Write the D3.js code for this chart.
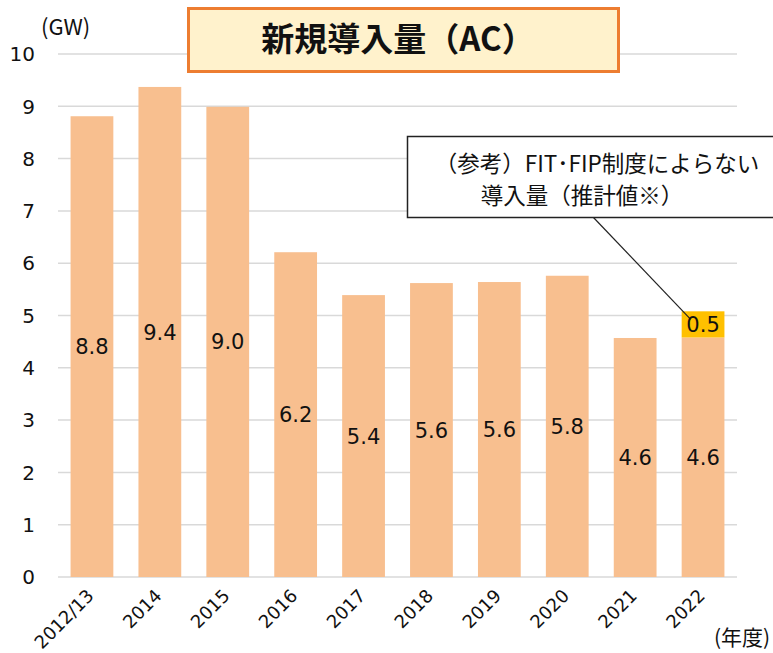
<!DOCTYPE html>
<html>
<head>
<meta charset="utf-8">
<script src="https://cdn.jsdelivr.net/npm/d3@7"></script>
<style>
  body { margin: 0; background: #fff; }
  text { font-family: "Noto Sans CJK JP", "Noto Sans", sans-serif; }
  text.num { font-family: "DejaVu Sans", sans-serif; }
</style>
</head>
<body>
<div id="chart"></div>
<script>
// data
const years = ["2012/13", "2014", "2015", "2016", "2017", "2018", "2019", "2020", "2021", "2022"];
const fitValues = [8.81, 9.37, 8.99, 6.21, 5.39, 5.62, 5.64, 5.76, 4.57, 4.58];
const extraValues = [0, 0, 0, 0, 0, 0, 0, 0, 0, 0.5]; // non FIT/FIP estimate
const yTicks = [0, 1, 2, 3, 4, 5, 6, 7, 8, 9, 10];

const width = 773;
const height = 653;
const plotLeft = 58;
const plotRight = 737;
const plotTop = 54;
const plotBottom = 577;

const svg = d3
  .select("#chart")
  .append("svg")
  .attr("width", width)
  .attr("height", height);

const x = d3
  .scaleBand()
  .domain(years)
  .range([plotLeft, plotRight])
  .paddingInner(0.37)
  .paddingOuter(0.185);

const y = d3.scaleLinear().domain([0, 10]).range([plotBottom, plotTop]);

// grid lines
svg
  .append("g")
  .selectAll("line")
  .data(yTicks)
  .enter()
  .append("line")
  .attr("x1", plotLeft)
  .attr("x2", plotRight)
  .attr("y1", (d) => y(d))
  .attr("y2", (d) => y(d))
  .attr("stroke", "#d9d9d9")
  .attr("stroke-width", 1.5);

// y tick labels
svg
  .append("g")
  .selectAll("text")
  .data(yTicks)
  .enter()
  .append("text")
  .attr("class", "num")
  .attr("x", 35)
  .attr("y", (d) => y(d))
  .attr("dy", "0.36em")
  .attr("text-anchor", "end")
  .style("font-size", "20px")
  .style("fill", "#111")
  .text((d) => d);

svg
  .append("text")
  .attr("x", 41)
  .attr("y", 35)
  .style("font-size", "22px")
  .style("fill", "#111")
  .text("(GW)");

// bars
const rows = years.map((yr, i) => ({ year: yr, fit: fitValues[i], extra: extraValues[i] }));

svg
  .append("g")
  .selectAll("rect")
  .data(rows)
  .enter()
  .append("rect")
  .attr("x", (d) => x(d.year))
  .attr("y", (d) => y(d.fit))
  .attr("width", x.bandwidth())
  .attr("height", (d) => y(0) - y(d.fit))
  .attr("fill", "#f8bf8f");

svg
  .append("g")
  .selectAll("rect")
  .data(rows.filter((d) => d.extra > 0))
  .enter()
  .append("rect")
  .attr("x", (d) => x(d.year))
  .attr("y", (d) => y(d.fit + d.extra))
  .attr("width", x.bandwidth())
  .attr("height", (d) => y(d.fit) - y(d.fit + d.extra))
  .attr("fill", "#ffc000");

// value labels
svg
  .append("g")
  .selectAll("text")
  .data(rows)
  .enter()
  .append("text")
  .attr("class", "num")
  .attr("x", (d) => x(d.year) + x.bandwidth() / 2)
  .attr("y", (d) => y(d.fit / 2))
  .attr("dy", "0.36em")
  .attr("text-anchor", "middle")
  .style("font-size", "21px")
  .style("fill", "#111")
  .text((d) => d3.format(".1f")(d.fit));

// callout leader (drawn under the 0.5 label)
const last = rows[rows.length - 1];
svg
  .append("line")
  .attr("x1", 593)
  .attr("y1", 217)
  .attr("x2", x(last.year) + 9)
  .attr("y2", y(last.fit + last.extra) + 8)
  .attr("stroke", "#222")
  .attr("stroke-width", 1.2);

svg
  .append("g")
  .selectAll("text")
  .data(rows.filter((d) => d.extra > 0))
  .enter()
  .append("text")
  .attr("class", "num")
  .attr("x", (d) => x(d.year) + x.bandwidth() / 2)
  .attr("y", (d) => y(d.fit + d.extra / 2))
  .attr("dy", "0.36em")
  .attr("text-anchor", "middle")
  .style("font-size", "21px")
  .style("fill", "#111")
  .text((d) => d3.format(".1f")(d.extra));

// x labels, rotated
svg
  .append("g")
  .selectAll("text")
  .data(years)
  .enter()
  .append("text")
  .attr("class", "num")
  .attr("transform", (d) => `translate(${x(d) + x.bandwidth() / 2 + 3},${plotBottom + 20}) rotate(-45)`)
  .attr("text-anchor", "end")
  .style("font-size", "18px")
  .style("fill", "#111")
  .text((d) => d);

svg
  .append("text")
  .attr("x", 714)
  .attr("y", 645)
  .style("font-size", "21px")
  .style("fill", "#111")
  .text("(年度)");

// title box
svg
  .append("rect")
  .attr("x", 188.5)
  .attr("y", 8.5)
  .attr("width", 430)
  .attr("height", 63)
  .attr("fill", "#fff2cc")
  .attr("stroke", "#ed7d31")
  .attr("stroke-width", 3);

svg
  .append("text")
  .attr("x", 398)
  .attr("y", 39)
  .attr("dy", "0.36em")
  .attr("text-anchor", "middle")
  .style("font-size", "33px")
  .style("font-weight", "bold")
  .style("fill", "#111")
  .text("新規導入量（AC）");

// callout box
svg
  .append("rect")
  .attr("x", 407.5)
  .attr("y", 136.5)
  .attr("width", 380)
  .attr("height", 81)
  .attr("fill", "#fff")
  .attr("stroke", "#222")
  .attr("stroke-width", 1.5);

svg
  .append("text")
  .attr("x", 597)
  .attr("y", 164)
  .attr("dy", "0.36em")
  .attr("text-anchor", "middle")
  .style("font-size", "22.5px")
  .style("fill", "#111")
  .text("（参考）FIT･FIP制度によらない");

svg
  .append("text")
  .attr("x", 582)
  .attr("y", 196)
  .attr("dy", "0.36em")
  .attr("text-anchor", "middle")
  .style("font-size", "22.5px")
  .style("fill", "#111")
  .text("導入量（推計値※）");
</script>
</body>
</html>
